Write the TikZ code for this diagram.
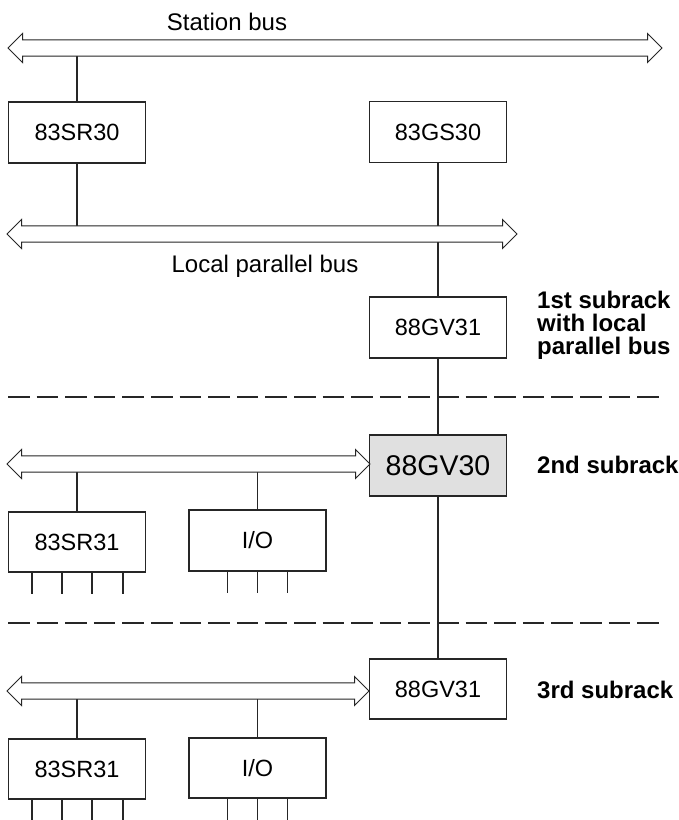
\documentclass[tikz,border=0pt]{standalone}
\usepackage{fontspec}
\setmainfont{Liberation Sans}
\usepackage{tikz}
\usetikzlibrary{positioning}
\usetikzlibrary{shapes.arrows}
\usetikzlibrary{backgrounds}

\tikzset{
  unit/.style={rectangle,draw=black!85,line width=1.1pt,fill=white,inner sep=0pt,
    minimum width=137pt,minimum height=61pt,font=\fontsize{23.5}{26}\selectfont},
  bus/.style={double arrow,draw=black!85,line width=1pt,fill=white,inner sep=0pt,
    inner ysep=7.7pt,minimum width=28pt,double arrow head extend=6.3pt,
    double arrow tip angle=90},
  wire/.style={black!85,line width=1.1pt},
  sep/.style={black!85,line width=1.6pt,dash pattern=on 21.6pt off 7pt},
  rack/.style={align=left,inner sep=0pt,font=\fontsize{24}{23}\selectfont\bfseries},
  txt/.style={inner sep=0pt,font=\fontsize{24}{26}\selectfont},
}

\begin{document}
\begin{tikzpicture}[x=1pt,y=-1pt]
       \useasboundingbox (0,0) rectangle (678,820);

       % station level
       \node[bus,minimum height=654pt] (sbus) at (335,48) {};
       \node[txt,anchor=base] (sbuslabel) at (227,30) {Station bus};
       \node[unit] (sr30) at (77,132.5) {83SR30};
       \node[unit] (gs30) at (438,132) {83GS30};

       % 1st subrack
       \node[bus,minimum height=510pt] (lbus) at (262,234) {};
       \node[txt,anchor=base] (lbuslabel) at (265,272) {Local parallel bus};
       \node[unit] (gv31a) at (438,327.5) {88GV31};
       \node[rack,anchor=west] (rack1) at (537,325) {1st subrack\\with local\\parallel bus};

       \draw[sep] (8,397) -- (660,397);

       % 2nd subrack
       \node[unit,fill=black!12,font=\fontsize{28.5}{30}\selectfont] (gv30) at (438,465.5) {88GV30};
       \node[bus,minimum height=363pt] (bus2) at (188.5,464) {};
       \node[rack,anchor=base west] (rack2) at (537,473) {2nd subrack};
       \node[unit,minimum height=60pt] (sr31a) at (77,542) {83SR31};
       \node[unit] (ioa) at (257.5,540.5) {I/O};

       \draw[sep] (8,623) -- (660,623);

       % 3rd subrack
       \node[unit,minimum height=60pt] (gv31b) at (438,689) {88GV31};
       \node[bus,minimum height=362pt] (bus3) at (188,691) {};
       \node[rack,anchor=base west] (rack3) at (537,698) {3rd subrack};
       \node[unit,minimum height=60pt] (sr31b) at (77,769) {83SR31};
       \node[unit,minimum height=60pt] (iob) at (257.5,768) {I/O};

       \begin{scope}[on background layer]
       \draw[wire] (sr30.north) -- (sr30.north |- sbus.center);
       \draw[wire] (sr30.south) -- (sr30.south |- lbus.center);
       \draw[wire] (gs30) -- (gv31a);
       \draw[wire] (gv31a) -- (gv30);
       \draw[wire] (gv30) -- (gv31b);
       \draw[wire] (sr31a.north) -- (sr31a.north |- bus2.center);
       \draw[wire] (ioa.north) -- (ioa.north |- bus2.center);
       \draw[wire] (sr31b.north) -- (sr31b.north |- bus3.center);
       \draw[wire] (iob.north) -- (iob.north |- bus3.center);
       \end{scope}

       % module pins
       \foreach \dx in {-45,-15,15,46} {
         \draw[wire] ([xshift=\dx pt]sr31a.south) -- ++(0,21);
         \draw[wire] ([xshift=\dx pt]sr31b.south) -- ++(0,21);
       }
       \foreach \dx in {-30,0,30} {
         \draw[wire] ([xshift=\dx pt]ioa.south) -- ++(0,21);
         \draw[wire] ([xshift=\dx pt]iob.south) -- ++(0,21);
       }
\end{tikzpicture}
\end{document}
